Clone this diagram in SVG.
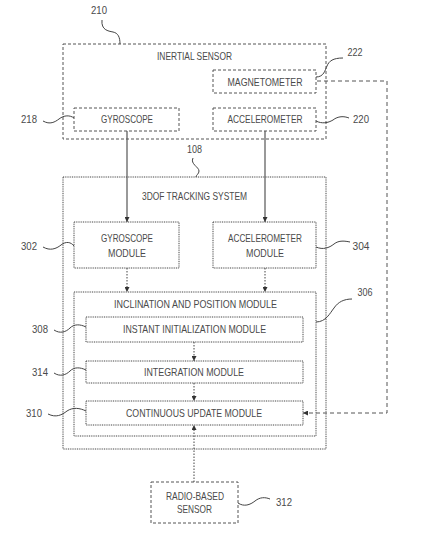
<svg xmlns="http://www.w3.org/2000/svg" width="429" height="541" viewBox="0 0 429 541">
<style>
text{font-family:"Liberation Sans",Arial,sans-serif;font-size:11px;fill:#4a4a4a;text-anchor:middle}
.dash{fill:none;stroke:#555;stroke-width:1;stroke-dasharray:3 2}
.dot{fill:none;stroke:#444;stroke-width:1;stroke-dasharray:1 0.8}
.lead{fill:none;stroke:#444;stroke-width:1}
.solid{fill:none;stroke:#555;stroke-width:1.2}
.dotl{fill:none;stroke:#444;stroke-width:1;stroke-dasharray:1.5 1.5}
.dashl{fill:none;stroke:#555;stroke-width:1;stroke-dasharray:4 3}
</style>
<defs>
<marker id="ah" viewBox="0 0 8 8" refX="8" refY="4" markerWidth="5" markerHeight="5" orient="auto" markerUnits="userSpaceOnUse">
<path d="M0,0 L8,4 L0,8 Z" fill="#333"/>
</marker>
</defs>
<g id="inertial-sensor">
<rect class="dash" x="63" y="44" width="263" height="95"/>
<text x="194.5" y="59.7" textLength="75" lengthAdjust="spacingAndGlyphs">INERTIAL SENSOR</text>
<text x="99" y="14" textLength="16" lengthAdjust="spacingAndGlyphs">210</text>
<path class="lead" d="M102,20 C101,30 108,31 113,32 C118,33 120,37 120,44"/>
</g>
<g id="magnetometer">
<rect class="dash" x="213" y="70" width="103" height="23"/>
<text x="265" y="85.7" textLength="75" lengthAdjust="spacingAndGlyphs">MAGNETOMETER</text>
<text x="355" y="56" textLength="15" lengthAdjust="spacingAndGlyphs">222</text>
<path class="lead" d="M316,77 C324,77 325,70 327,66 C329,61 333,58 343,58"/>
</g>
<g id="gyroscope">
<rect class="dash" x="74" y="108" width="105" height="23"/>
<text x="127" y="123.3" textLength="52" lengthAdjust="spacingAndGlyphs">GYROSCOPE</text>
<text x="29" y="123" textLength="16" lengthAdjust="spacingAndGlyphs">218</text>
<path class="lead" d="M43,121 C50,125 55,122 59,119 C64,115 70,115 74,118"/>
</g>
<g id="accelerometer">
<rect class="dash" x="213" y="108" width="103" height="23"/>
<text x="265" y="123.3" textLength="75" lengthAdjust="spacingAndGlyphs">ACCELEROMETER</text>
<text x="361" y="123" textLength="16" lengthAdjust="spacingAndGlyphs">220</text>
<path class="lead" d="M316,121 C322,124 328,123 333,120 C338,116 344,116 349,118"/>
</g>
<g id="tracking-system">
<rect class="dot" x="63" y="177" width="263" height="272"/>
<text x="194.5" y="199.7" textLength="105" lengthAdjust="spacingAndGlyphs">3DOF TRACKING SYSTEM</text>
<text x="194.5" y="153" textLength="15" lengthAdjust="spacingAndGlyphs">108</text>
<path class="lead" d="M193,158 C190,164 199,167 199,171 C199,174 196,175 196,177"/>
</g>
<g id="gyroscope-module">
<rect class="dot" x="74" y="222" width="105" height="46"/>
<text x="127" y="242.3" textLength="52" lengthAdjust="spacingAndGlyphs">GYROSCOPE</text>
<text x="127" y="257.3" textLength="38" lengthAdjust="spacingAndGlyphs">MODULE</text>
<text x="29" y="250" textLength="16" lengthAdjust="spacingAndGlyphs">302</text>
<path class="lead" d="M43,247 C50,251 56,249 61,245 C66,241 71,242 74,246"/>
</g>
<g id="accelerometer-module">
<rect class="dot" x="213" y="222" width="103" height="46"/>
<text x="265" y="242.3" textLength="74" lengthAdjust="spacingAndGlyphs">ACCELEROMETER</text>
<text x="265" y="257.3" textLength="38" lengthAdjust="spacingAndGlyphs">MODULE</text>
<text x="361" y="250" textLength="17" lengthAdjust="spacingAndGlyphs">304</text>
<path class="lead" d="M316,247 C323,250 329,248 334,244 C339,240 345,241 350,242"/>
</g>
<g id="inclination-position-module">
<rect class="dot" x="74" y="292" width="242" height="144"/>
<text x="195.5" y="308" textLength="163" lengthAdjust="spacingAndGlyphs">INCLINATION AND POSITION MODULE</text>
<text x="365" y="296" textLength="15" lengthAdjust="spacingAndGlyphs">306</text>
<path class="lead" d="M316,322 C326,322 330,313 334,308 C338,302 344,299 352,299"/>
</g>
<g id="instant-initialization-module">
<rect class="dot" x="86" y="317" width="217" height="25"/>
<text x="194.5" y="333.3" textLength="143" lengthAdjust="spacingAndGlyphs">INSTANT INITIALIZATION MODULE</text>
<text x="40" y="333" textLength="16" lengthAdjust="spacingAndGlyphs">308</text>
<path class="lead" d="M54,330 C60,334 66,332 70,328 C74,324 80,324 86,327"/>
</g>
<g id="integration-module">
<rect class="dot" x="86" y="361" width="217" height="22"/>
<text x="194" y="375.7" textLength="100" lengthAdjust="spacingAndGlyphs">INTEGRATION MODULE</text>
<text x="40" y="376" textLength="16" lengthAdjust="spacingAndGlyphs">314</text>
<path class="lead" d="M54,373 C60,377 66,375 70,371 C74,367 80,367 86,370"/>
</g>
<g id="continuous-update-module">
<rect class="dot" x="86" y="401" width="217" height="24"/>
<text x="194" y="416.7" textLength="136" lengthAdjust="spacingAndGlyphs">CONTINUOUS UPDATE MODULE</text>
<text x="34" y="417" textLength="16" lengthAdjust="spacingAndGlyphs">310</text>
<path class="lead" d="M48,414 C56,418 62,415 67,411 C73,407 80,408 86,411"/>
</g>
<g id="radio-based-sensor">
<rect class="dash" x="151" y="482" width="87" height="41"/>
<text x="195" y="500" textLength="58" lengthAdjust="spacingAndGlyphs">RADIO-BASED</text>
<text x="194.5" y="513.3" textLength="35" lengthAdjust="spacingAndGlyphs">SENSOR</text>
<text x="284" y="506" textLength="16" lengthAdjust="spacingAndGlyphs">312</text>
<path class="lead" d="M238,503 C244,507 250,505 255,501 C260,497 265,497 270,499"/>
</g>
<g id="connectors">
<path class="solid" d="M127,131 V222" marker-end="url(#ah)"/>
<path class="solid" d="M265,131 V222" marker-end="url(#ah)"/>
<path class="dotl" d="M127,268 V292" marker-end="url(#ah)"/>
<path class="dotl" d="M265,268 V292" marker-end="url(#ah)"/>
<path class="dotl" d="M194,342 V361" marker-end="url(#ah)"/>
<path class="dotl" d="M194,383 V401" marker-end="url(#ah)"/>
<path class="dotl" d="M194,482 V425" marker-end="url(#ah)"/>
<path class="dashl" d="M317,81 H387 V413 H303" marker-end="url(#ah)"/>
</g>
</svg>
